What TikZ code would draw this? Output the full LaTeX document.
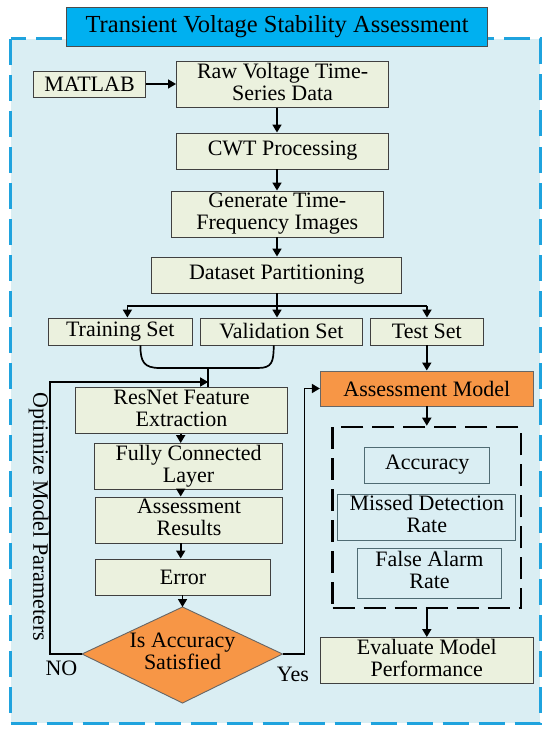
\documentclass[tikz,border=0pt]{standalone}
\usepackage{fontspec}
\setmainfont{Liberation Serif}
\newfontfamily\serifx{Liberation Serif}
\usetikzlibrary{arrows.meta}
\definecolor{bgblue}{HTML}{DAEEF3}
\definecolor{frameblue}{HTML}{1FA3DE}
\definecolor{titleblue}{HTML}{00B0F0}
\definecolor{beige}{HTML}{EBF1DE}
\definecolor{orng}{HTML}{F79646}
\definecolor{slate}{HTML}{4F6B73}
\newcommand{\twol}[2]{\begin{tabular}{@{}c@{}}#1\\[-2pt]#2\end{tabular}}
\tikzset{
  txt/.style={font=\serifx\fontsize{22}{24}\selectfont},
  box/.style={txt, draw=black!75, line width=0.9pt, fill=beige, inner sep=0pt},
  mbox/.style={txt, draw=slate, line width=0.9pt, fill=bgblue, inner sep=0pt},
  obox/.style={txt, draw=black!60, line width=0.9pt, fill=orng, inner sep=0pt},
  conn/.style={line width=1.7pt, draw=black},
  arr/.style={conn, -{Triangle[length=8pt,width=9pt]}},
  lbl/.style={txt, inner sep=0pt}
}
\begin{document}
\begin{tikzpicture}[x=1pt,y=-1pt]
\useasboundingbox (0,0) rectangle (550,733);
% outer frame
\fill[bgblue] (10.5,39) rectangle (540,723);
\draw[frameblue, line width=3pt, dash pattern=on 26pt off 10pt] (10.5,39) rectangle (540,723);
% title
\node[draw=black!70, line width=0.9pt, fill=titleblue, inner sep=0pt, minimum width=421pt, minimum height=39pt,
  font=\serifx\fontsize{24.5}{26}\selectfont] (title) at (277.2,26.5) {Transient Voltage Stability Assessment};
% top column
\node[box, minimum width=112.3pt, minimum height=26pt] (matlab) at (89.5,84) {MATLAB};
\node[box, minimum width=212.3pt, minimum height=45pt] (raw) at (282.6,84.5) {\twol{Raw Voltage Time-}{Series Data}};
\node[box, minimum width=212.3pt, minimum height=36pt] (cwt) at (282.6,151) {CWT Processing};
\node[box, minimum width=212.3pt, minimum height=46pt] (gen) at (277.3,214) {\twol{Generate Time-}{Frequency Images}};
\node[box, minimum width=250.2pt, minimum height=36pt] (ds) at (276.7,275) {Dataset Partitioning};
\node[box, minimum width=143.9pt, minimum height=27pt] (train) at (120.3,331.5) {Training Set};
\node[box, minimum width=162.1pt, minimum height=27pt] (val) at (281.4,331.5) {Validation Set};
\node[box, minimum width=112.7pt, minimum height=27pt] (test) at (426.8,331.5) {Test Set};
% left loop
\node[box, minimum width=212.3pt, minimum height=45pt] (resnet) at (181.5,410.5) {\twol{ResNet Feature}{Extraction}};
\node[box, minimum width=187.8pt, minimum height=45pt] (fc) at (188.6,466.5) {\twol{Fully Connected}{Layer}};
\node[box, minimum width=187.1pt, minimum height=46pt] (ar) at (189,520) {\twol{Assessment}{Results}};
\node[box, minimum width=175.5pt, minimum height=36pt] (err) at (183.1,577) {Error};
% diamond
\coordinate (dN) at (182.5,607);
\coordinate (dS) at (182.5,703);
\coordinate (dW) at (82,654);
\coordinate (dE) at (282.5,654);
\draw[fill=orng, draw=black!60, line width=0.9pt] (dN) -- (dE) -- (dS) -- (dW) -- cycle;
\node[lbl] (dtext) at (182.5,654) {\twol{Is Accuracy}{Satisfied}};
\node[lbl] (no) at (61.4,668) {NO};
\node[lbl] (yes) at (293,674) {Yes};
\node[lbl, rotate=-90] (opt) at (38.6,517) {Optimize Model Parameters};
% right column
\node[obox, minimum width=212.9pt, minimum height=35pt] (am) at (426.8,388.5) {Assessment Model};
\node[draw=black, line width=2.6pt, dash pattern=on 22pt off 9pt, minimum width=188.4pt, minimum height=181pt, inner sep=0pt] (metrics) at (426.8,517.5) {};
\node[mbox, minimum width=124.6pt, minimum height=36pt] (acc) at (427.2,465) {Accuracy};
\node[mbox, minimum width=177.9pt, minimum height=46pt] (mdr) at (426.85,517) {\twol{Missed Detection}{Rate}};
\node[mbox, minimum width=144.6pt, minimum height=50pt] (far) at (429.5,573) {\twol{False Alarm}{Rate}};
\node[box, minimum width=212.9pt, minimum height=45pt] (eval) at (426.8,660.5) {\twol{Evaluate Model}{Performance}};
% connectors top
\draw[arr] (matlab.east) -- (raw.west |- matlab.east);
\draw[arr] (raw.south -| 277,0) -- (cwt.north -| 277,0);
\draw[arr] (cwt.south -| 277,0) -- (gen.north -| 277,0);
\draw[arr] (gen.south -| 277,0) -- (ds.north -| 277,0);
\coordinate (brL) at (127.4,306);
\coordinate (brR) at (427,306);
\coordinate (brM) at (277,306);
\draw[conn] (ds.south -| brM) -- (brM);
\draw[conn] (brL) -- (brR);
\draw[arr] (brL) -- (train.north -| brL);
\draw[arr] (brM) -- (val.north -| brM);
\draw[arr] (brR) -- (test.north -| brR);
% bracket
\coordinate (jn) at (208.1,368);
\draw[conn] (train.south -| 140.4,0) .. controls (140.4,362) and (144,368) .. (160,368) -- (258,368)
  .. controls (272,368) and (273.7,362) .. (val.south -| 273.7,0);
\draw[conn] (jn) -- (resnet.north -| jn);
\coordinate (fbT) at (50,382);
\coordinate (fbB) at (50,654);
\draw[arr] (dW) -- (fbB) -- (fbT) -- (fbT -| jn);
% left column arrows
\draw[arr] (resnet.south -| 180.7,0) -- (fc.north -| 180.7,0);
\draw[arr] (fc.south -| 180.7,0) -- (ar.north -| 180.7,0);
\draw[arr] (ar.south -| 180.7,0) -- (err.north -| 180.7,0);
\draw[arr] (err.south -| dN) -- (dN);
% yes path
\coordinate (ybB) at (304.6,654);
\coordinate (ybT) at (304.6,388.5);
\draw[arr] (dE) -- (ybB) -- (ybT) -- (am.west);
% right column arrows
\draw[arr] (test.south) -- (am.north);
\draw[arr] (am.south) -- (metrics.north);
\draw[arr] (metrics.south) -- (eval.north);
\end{tikzpicture}
\end{document}
